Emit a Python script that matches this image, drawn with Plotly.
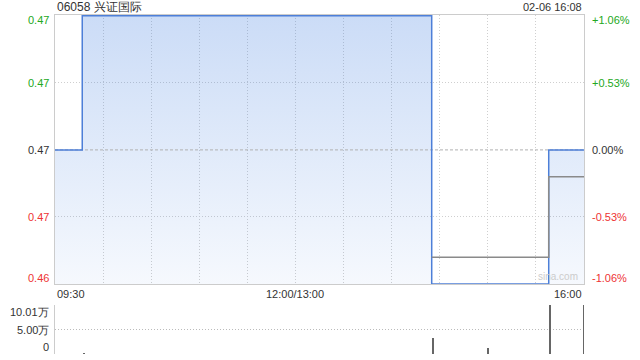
import plotly.graph_objects as go

# ---- data ----
title_text = "06058 兴证国际"
stamp_text = "02-06 16:08"
prev_close = 0.47
price_lo, price_hi = 0.465, 0.475

price_times = ["09:30", "09:47", "14:25", "15:38", "16:00"]
price_vals = [0.470, 0.475, 0.465, 0.470, 0.470]

avg_times = ["14:25", "15:38", "16:00"]
avg_vals = [0.4660, 0.4690, 0.4690]

vol_times = ["09:48", "14:26", "15:00", "15:39", "16:00"]
vol_vals = [1500, 33000, 12900, 100100, 99500]
vol_max = 100100

x_tick_labels = ["09:30", "12:00/13:00", "16:00"]
left_labels = ["0.47", "0.47", "0.47", "0.47", "0.46"]
right_labels = ["+1.06%", "+0.53%", "0.00%", "-0.53%", "-1.06%"]
label_levels = [0.475, 0.4725, 0.47, 0.4675, 0.465]
vol_labels = ["10.01万", "5.00万", "0"]
vol_levels = [100100, 50050, 0]


def tmin(s):
    h, m = map(int, s.split(":"))
    t = h * 60 + m
    if t <= 12 * 60:
        return t - (9 * 60 + 30)
    return 150 + t - 13 * 60


px = [tmin(t) for t in price_times]
ax = [tmin(t) for t in avg_times]
vx = [tmin(t) for t in vol_times]

W, H = 640, 360
L, R = 55, 584
MAIN_TOP, MAIN_BOT = 15, 284
VOL_TOP, VOL_BOT = 305, 354

GREEN = "#22a822"
RED = "#ee3333"
DARK = "#333333"
FONT = "Liberation Sans, Arial, sans-serif"
GRID = "#cfcfcf"
DOT = "1px,2px"

fig = go.Figure()

# fill
fig.add_trace(go.Scatter(
    x=px, y=price_vals, mode="lines", line=dict(width=0, shape="hv"),
    fill="tozeroy",
    fillgradient=dict(type="vertical", start=price_lo, stop=price_hi,
                      colorscale=[[0, "rgba(70,130,225,0.05)"], [1, "rgba(70,130,225,0.28)"]]),
    hoverinfo="skip", showlegend=False, xaxis="x", yaxis="y"))

# previous close dashed line
fig.add_trace(go.Scatter(
    x=[0, 330], y=[prev_close, prev_close], mode="lines",
    line=dict(color="#b0b0b0", width=1, dash="3px,2px"),
    hoverinfo="skip", showlegend=False, xaxis="x", yaxis="y"))

# price line
fig.add_trace(go.Scatter(
    x=px, y=price_vals, mode="lines", line=dict(color="#4d7fd8", width=1.5, shape="hv"),
    showlegend=False, xaxis="x", yaxis="y"))

# average line
fig.add_trace(go.Scatter(
    x=ax, y=avg_vals, mode="lines", line=dict(color="#8a8a8a", width=1.5, shape="hv"),
    showlegend=False, xaxis="x", yaxis="y"))

# volume bars
fig.add_trace(go.Bar(
    x=vx, y=vol_vals, width=0.7, marker=dict(color="#666666", line=dict(width=0)),
    showlegend=False, xaxis="x2", yaxis="y2"))

fig.update_layout(
    width=W, height=H,
    margin=dict(l=L, r=W - R, t=0, b=0),
    paper_bgcolor="white", plot_bgcolor="white",
    font=dict(family=FONT, size=11, color=DARK),
    bargap=0,
    xaxis=dict(domain=[0, 1], range=[0, 330], tickvals=list(range(30, 330, 30)),
               showgrid=True, gridcolor=GRID, griddash=DOT, gridwidth=1,
               showticklabels=False, ticks="", showline=True, linecolor="#cccccc",
               mirror=True, zeroline=False, anchor="y"),
    yaxis=dict(domain=[1 - MAIN_BOT / H, 1 - MAIN_TOP / H], range=[price_lo, price_hi + 0.00003],
               tickvals=[0.4675, 0.4725], showgrid=True, gridcolor=GRID, griddash=DOT,
               showticklabels=False, ticks="", showline=True, linecolor="#cccccc",
               mirror=True, zeroline=False, anchor="x"),
    xaxis2=dict(domain=[0, 1], range=[0, 330], showgrid=False, showticklabels=False,
                ticks="", showline=False, zeroline=False, anchor="y2"),
    yaxis2=dict(domain=[1 - VOL_BOT / H, 1 - VOL_TOP / H], range=[0, vol_max],
                tickvals=vol_levels, showgrid=True, gridcolor="#bbbbbb", griddash=DOT,
                showticklabels=False, ticks="", showline=True, linecolor="#cccccc",
                zeroline=False, anchor="x2"),
)


def ypix_main(v):
    return MAIN_BOT - (v - price_lo) / (price_hi - price_lo) * (MAIN_BOT - MAIN_TOP - 0.7)


def pfx(xp):
    return (xp - L) / (R - L)


def pfy(yp):
    return 1 - yp / H


ann = []
ann.append(dict(x=pfx(L), y=pfy(7), text=title_text, xanchor="left",
                font=dict(size=12, color=DARK, family=FONT)))
ann.append(dict(x=pfx(R), y=pfy(7), text=stamp_text, xanchor="right",
                font=dict(size=11, color=DARK, family=FONT)))

colors_left = [GREEN, GREEN, DARK, RED, RED]
shifts = [4.5, 0, 0, 0, -6]
for lab, rl, lv, c, s in zip(left_labels, right_labels, label_levels, colors_left, shifts):
    yy = pfy(ypix_main(lv) + s)
    ann.append(dict(x=pfx(L - 4), y=yy, text=lab, xanchor="right",
                    font=dict(size=11, color=c, family=FONT)))
    ann.append(dict(x=pfx(R + 6), y=yy, text=rl, xanchor="left",
                    font=dict(size=11, color=c, family=FONT)))

xl_pos = [(tmin("09:30"), "left"), (tmin("12:00"), "center"), (tmin("16:00"), "right")]
for lab, (xv, anc) in zip(x_tick_labels, xl_pos):
    ann.append(dict(x=pfx(L + xv / 330 * (R - L)), y=pfy(294), text=lab, xanchor=anc,
                    font=dict(size=11, color=DARK, family=FONT)))

vol_label_pix = [312, 329.5, 347]
for lab, yp in zip(vol_labels, vol_label_pix):
    ann.append(dict(x=pfx(L - 4), y=pfy(yp), text=lab, xanchor="right",
                    font=dict(size=11, color=DARK, family=FONT)))

ann.append(dict(x=pfx(558), y=pfy(276), text="sina.com", xanchor="center",
                font=dict(size=10, color="#cccccc", family=FONT)))

for a in ann:
    a.update(xref="paper", yref="paper", showarrow=False, yanchor="middle")
fig.update_layout(annotations=ann)

fig.write_html("out.html")
